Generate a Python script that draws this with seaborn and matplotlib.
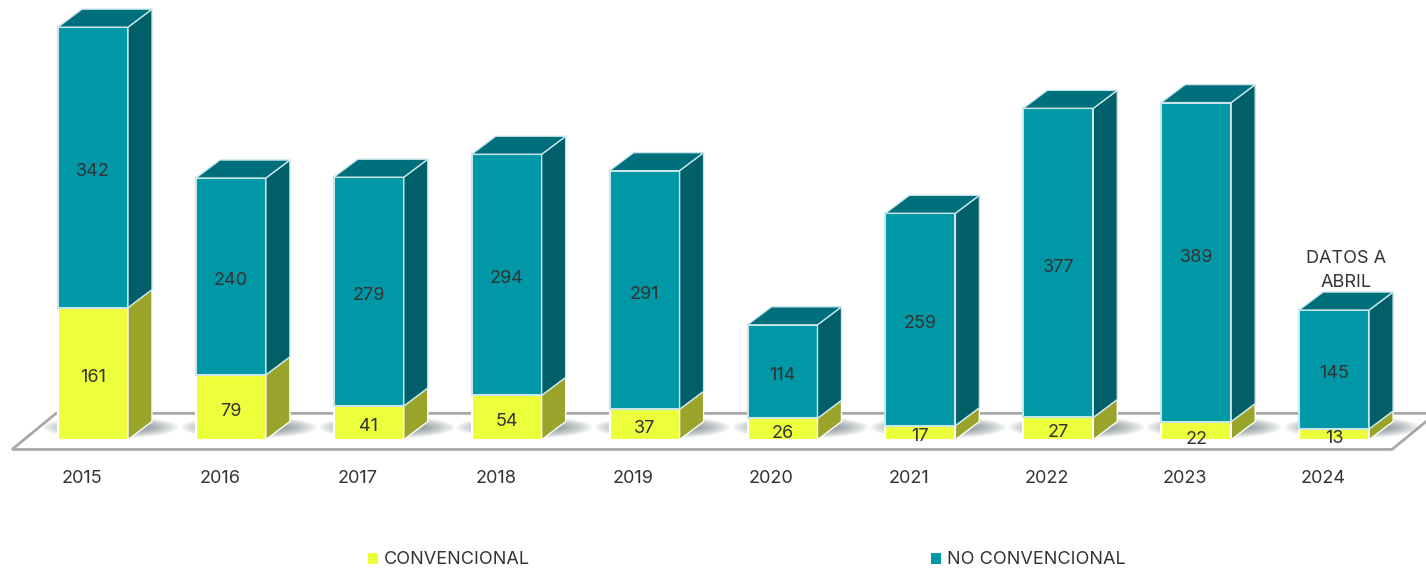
import matplotlib
matplotlib.use("Agg")
import matplotlib.pyplot as plt
import seaborn as sns
import numpy as np
import pandas as pd
from matplotlib.patches import Polygon, Ellipse

# Values
years = ["2015", "2016", "2017", "2018", "2019", "2020", "2021", "2022", "2023", "2024"]
convencional = [161, 79, 41, 54, 37, 26, 17, 27, 22, 13]
no_convencional = [342, 240, 279, 294, 291, 114, 259, 377, 389, 145]

YELLOW = "#ecff3a"
YELLOW_SIDE = "#9aa32a"
TEAL = "#0097a7"
TEAL_SIDE = "#005f68"
TEAL_TOP = "#006f7c"
TEXT = "#333333"

df = pd.DataFrame({"year": years, "conv": convencional, "noconv": no_convencional})

sns.set_theme(style="white")
plt.rcParams["font.family"] = ["Inter", "DejaVu Sans"]

fig = plt.figure(figsize=(14.26, 5.69), dpi=100)
ax = fig.add_axes([0, 1 - 439.6 / 569, 1, 439.6 / 569])

bar_w = 70 / 137.9
depth_x = 24 / 137.9
depth_y = 18 / 0.82

sns.barplot(data=df, x="year", y="conv", color=YELLOW, saturation=1, width=bar_w,
            edgecolor="white", linewidth=1.5, zorder=3, label="CONVENCIONAL", ax=ax)
sns.barplot(data=df, x="year", y="noconv", bottom=df["conv"], color=TEAL, saturation=1, width=bar_w,
            edgecolor="#c8e6ea", linewidth=1.5, zorder=3, label="NO CONVENCIONAL", ax=ax)

ax.set_xlim(-93 / 137.9, (1426 - 93) / 137.9)
ax.set_ylim(0, 439.6 / 0.82)


def side_face(x, y0, y1, color, edge):
    pts = [(x, y0), (x + depth_x, y0 + depth_y), (x + depth_x, y1 + depth_y), (x, y1)]
    ax.add_patch(Polygon(pts, closed=True, facecolor=color, edgecolor=edge, lw=1, zorder=3, clip_on=False))


def top_face(x0, x1, y):
    pts = [(x0, y), (x1, y), (x1 + depth_x, y + depth_y), (x0 + depth_x, y + depth_y)]
    ax.add_patch(Polygon(pts, closed=True, facecolor=TEAL_TOP, edgecolor="#c8e6ea", lw=1, zorder=3, clip_on=False))


# 3d faces and floor shadows
for i, (c, n) in enumerate(zip(convencional, no_convencional)):
    x0 = i - bar_w / 2
    x1 = i + bar_w / 2
    side_face(x1, 0, c, YELLOW_SIDE, "white")
    side_face(x1, c, c + n, TEAL_SIDE, "#c8e6ea")
    top_face(x0, x1, c + n)
    for k in range(12):
        ax.add_patch(Ellipse((i + 0.13, 15), 0.98 - k * 0.05, 27 - k * 1.9, facecolor="#4c5f63",
                             alpha=0.08, lw=0, zorder=1.5))

# floor
floor_x = [-0.587, 9.42, 9.74, -0.268]
floor_y = [-12, -12, 32, 32]
ax.add_patch(Polygon(list(zip(floor_x, floor_y)), closed=True, facecolor="white", edgecolor="#a8a8a8",
                     lw=2, zorder=1, clip_on=False))

# value labels
for cont, vals in zip(ax.containers, [convencional, no_convencional]):
    labels = ax.bar_label(cont, labels=[str(v) for v in vals], label_type="center", padding=-3,
                          fontsize=13, color=TEXT, zorder=5)
    for lab in labels:
        if lab.get_text() == "22":
            lab.xyann = (0, -6.5)
        if lab.get_text() == "389":
            lab.xyann = (0, 3.5)

ax.text(9 + 12 / 137.9, 206, "DATOS A\nABRIL", ha="center", va="center", fontsize=13, color=TEXT,
        linespacing=1.55)

ax.set_xticks(np.arange(len(years)) - 11 / 137.9)
ax.set_xticklabels(years, fontsize=13, color=TEXT)
ax.tick_params(axis="x", length=0, pad=22)
ax.set_yticks([])
ax.set_xlabel("")
ax.set_ylabel("")
sns.despine(ax=ax, left=True, bottom=True, top=True, right=True)
ax.patch.set_alpha(0)

ax.legend(loc="center", bbox_to_anchor=(747 / 1426, 1 - 560 / 569), bbox_transform=fig.transFigure,
          ncol=2, frameon=False, fontsize=13, labelcolor=TEXT, handlelength=0.55, handleheight=0.55,
          handletextpad=0.35, columnspacing=22.2, borderpad=0, borderaxespad=0)
for h in ax.get_legend().legend_handles:
    h.set_edgecolor("none")

fig.savefig("out.png", dpi=100)
